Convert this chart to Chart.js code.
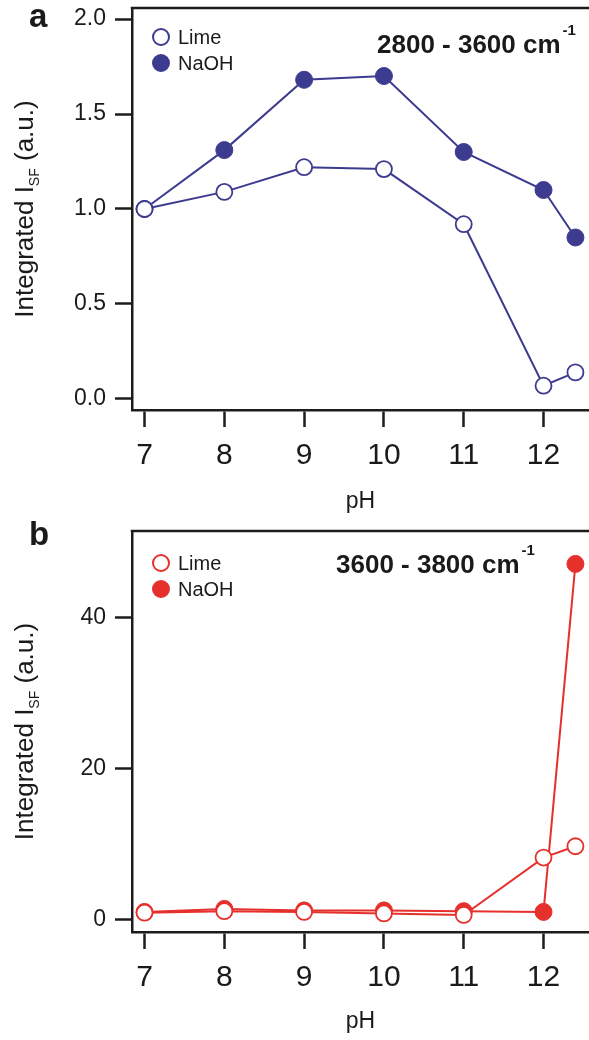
<!DOCTYPE html>
<html>
<head>
<meta charset="utf-8">
<script src="https://cdn.jsdelivr.net/npm/chart.js@4.4.0/dist/chart.umd.min.js"></script>
<style>
  html, body { margin: 0; padding: 0; background: #ffffff; overflow: hidden; }
  canvas { display: block; }
</style>
</head>
<body>
<canvas id="chartA" width="589" height="515"></canvas>
<canvas id="chartB" width="589" height="525"></canvas>
<script>
var phValues = [7, 8, 9, 10, 11, 12, 12.4];
var limeA = [1.0, 1.09, 1.22, 1.21, 0.92, 0.07, 0.14];
var naohA = [1.0, 1.31, 1.68, 1.70, 1.30, 1.10, 0.85];
var limeB = [0.9, 1.1, 1.0, 0.8, 0.6, 8.2, 9.7];
var naohB = [1.0, 1.4, 1.2, 1.2, 1.1, 1.0, 47.1];
var xTicks = [7, 8, 9, 10, 11, 12];
var yTicksA = [0, 0.5, 1.0, 1.5, 2.0];
var yTicksB = [0, 20, 40];
var seriesNames = ["Lime", "NaOH"];

var FONT = "'Liberation Sans', Arial, sans-serif";
var AXIS = "#1c1c1c";

function toPoints(values){
    var pts = [];
    for(let i=0; i<phValues.length; i++){
        pts.push({x: phValues[i], y: values[i]});
    }
    return pts;
}

// draws the panel letter, the range text, the legend and the y title
var decor = {
    id: "decor",
    afterDraw: function(chart, args, opts){
        var ctx = chart.ctx;
        var area = chart.chartArea;
        ctx.save();

        // top line of the box
        ctx.strokeStyle = AXIS;
        ctx.lineWidth = 2.5;
        ctx.beginPath();
        ctx.moveTo(area.left - 1.25, area.top);
        ctx.lineTo(chart.width, area.top);
        ctx.stroke();

        // panel letter
        ctx.fillStyle = "#1a1a1a";
        ctx.textBaseline = "alphabetic";
        ctx.textAlign = "left";
        ctx.font = "bold 33px " + FONT;
        ctx.fillText(opts.letter, 29, opts.letterY);

        // range text with superscript
        ctx.font = "bold 26px " + FONT;
        ctx.fillText(opts.range, opts.rangeX, opts.rangeY);
        var w = ctx.measureText(opts.range).width;
        ctx.font = "bold 15px " + FONT;
        ctx.fillText("-1", opts.rangeX + w + 2, opts.rangeY - 18);

        // legend
        var ds = chart.data.datasets;
        for(let i=0; i<ds.length; i++){
            var cy = opts.legendY + i * 26;
            ctx.beginPath();
            ctx.arc(161, cy, 8, 0, Math.PI * 2);
            ctx.fillStyle = ds[i].pointBackgroundColor;
            ctx.fill();
            ctx.lineWidth = 2;
            ctx.strokeStyle = ds[i].borderColor;
            ctx.stroke();
            ctx.fillStyle = "#1a1a1a";
            ctx.font = "20px " + FONT;
            ctx.textBaseline = "middle";
            ctx.fillText(ds[i].label, 178, cy + 1);
        }

        // y title with subscript
        var cyT = (area.top + area.bottom) / 2;
        ctx.translate(33, cyT);
        ctx.rotate(-Math.PI / 2);
        ctx.textBaseline = "alphabetic";
        ctx.font = "26px " + FONT;
        var p1 = "Integrated I", p3 = " (a.u.)";
        var w1 = ctx.measureText(p1).width;
        var w3 = ctx.measureText(p3).width;
        ctx.font = "14px " + FONT;
        var w2 = ctx.measureText("SF").width;
        var x0 = -(w1 + w2 + w3) / 2;
        ctx.font = "26px " + FONT;
        ctx.fillText(p1, x0, 0);
        ctx.font = "14px " + FONT;
        ctx.fillText("SF", x0 + w1, 6);
        ctx.font = "26px " + FONT;
        ctx.fillText(p3, x0 + w1 + w2, 0);

        ctx.restore();
    }
};

function makeChart(canvasId, color, lime, naoh, yMin, yMax, yTicks, digits, cfg){
    var ctx = document.getElementById(canvasId).getContext("2d");
    return new Chart(ctx, {
        type: "line",
        data: {
            datasets: [{
                label: seriesNames[0],
                data: toPoints(lime),
                borderColor: color,
                borderWidth: 2,
                pointRadius: 8,
                pointHoverRadius: 8,
                pointBorderWidth: 1.8,
                pointBackgroundColor: "#ffffff",
                pointBorderColor: color,
                tension: 0
            }, {
                label: seriesNames[1],
                data: toPoints(naoh),
                borderColor: color,
                borderWidth: 2,
                pointRadius: 8.5,
                pointHoverRadius: 8.5,
                pointBorderWidth: 1,
                pointBackgroundColor: color,
                pointBorderColor: color,
                tension: 0
            }]
        },
        options: {
            responsive: false,
            animation: false,
            devicePixelRatio: 1,
            clip: false,
            layout: { autoPadding: false, padding: { top: cfg.top, right: 0, bottom: 0, left: 0 } },
            plugins: {
                legend: { display: false },
                tooltip: { enabled: false },
                decor: cfg.decor
            },
            scales: {
                x: {
                    type: "linear",
                    min: 6.843,
                    max: 12.57,
                    afterFit: function(scale){
                        scale.height = cfg.xHeight;
                        scale.paddingLeft = 0;
                        scale.paddingRight = 0;
                    },
                    afterBuildTicks: function(scale){
                        scale.ticks = xTicks.map(function(v){ return {value: v}; });
                    },
                    grid: { drawOnChartArea: false, drawTicks: true, tickLength: 17, tickWidth: 2.5, tickColor: AXIS },
                    border: { display: true, width: 2.5, color: AXIS },
                    ticks: {
                        padding: 11,
                        color: "#1a1a1a",
                        font: { family: FONT, size: 30 },
                        maxRotation: 0,
                        callback: function(v){ return String(v); }
                    },
                    title: {
                        display: true,
                        text: "pH",
                        color: "#1a1a1a",
                        font: { family: FONT, size: 23 },
                        padding: { top: 0, bottom: cfg.titlePad }
                    }
                },
                y: {
                    type: "linear",
                    min: yMin,
                    max: yMax,
                    afterFit: function(scale){
                        scale.width = 132;
                        scale.paddingTop = 0;
                        scale.paddingBottom = 0;
                    },
                    afterBuildTicks: function(scale){
                        scale.ticks = yTicks.map(function(v){ return {value: v}; });
                    },
                    grid: { drawOnChartArea: false, drawTicks: true, tickLength: 17, tickWidth: 2.5, tickColor: AXIS },
                    border: { display: true, width: 2.5, color: AXIS },
                    ticks: {
                        padding: 9,
                        color: "#1a1a1a",
                        font: { family: FONT, size: 23 },
                        callback: function(v){ return v.toFixed(digits); }
                    }
                }
            }
        },
        plugins: [decor]
    });
}

window.addEventListener("load", function(){
    makeChart("chartA", "#3c3b8f", limeA, naohA, -0.058, 2.058, yTicksA, 1, {
        top: 8, xHeight: 105, titlePad: 0,
        decor: { letter: "a", letterY: 27, range: "2800 - 3600 cm", rangeX: 377, rangeY: 53, legendY: 37 }
    });
    makeChart("chartB", "#e5302b", limeB, naohB, -1.66, 51.46, yTicksB, 0, {
        top: 16, xHeight: 108, titlePad: 5,
        decor: { letter: "b", letterY: 30, range: "3600 - 3800 cm", rangeX: 336, rangeY: 58, legendY: 48 }
    });
});
</script>
</body>
</html>
